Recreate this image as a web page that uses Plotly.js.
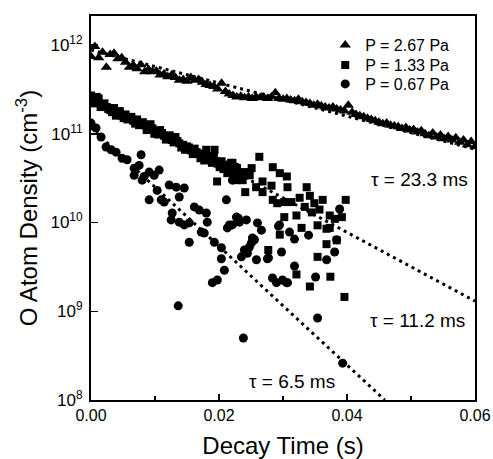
<!DOCTYPE html>
<html>
<head>
<meta charset="utf-8">
<script src="https://cdn.plot.ly/plotly-3.0.1.min.js"></script>
<style>html,body{margin:0;padding:0;background:#fff;}#chart{width:493px;height:459px;}</style>
</head>
<body>
<div id="chart"></div>
<script>
// ---- Data (decay time in s, O atom density in cm^-3) ----
var legendNames = ["P = 2.67 Pa", "P = 1.33 Pa", "P = 0.67 Pa"];
var yTickVals = [1e8, 1e9, 1e10, 1e11, 1e12];
var yTickText = ["10<sup>8</sup>", "10<sup>9</sup>", "10<sup>10</sup>", "10<sup>11</sup>", "10<sup>12</sup>"];

var triTime = [0.0000,0.0006,0.0012,0.0018,0.0024,0.0030,0.0036,0.0042,0.0048,0.0054,
  0.0060,0.0066,0.0072,0.0078,0.0084,0.0090,0.0096,0.0102,0.0108,0.0114,
  0.0120,0.0126,0.0132,0.0138,0.0144,0.0150,0.0156,0.0162,0.0168,0.0174,
  0.0180,0.0186,0.0192,0.0198,0.0204,0.0210,0.0216,0.0222,0.0228,0.0234,
  0.0240,0.0246,0.0252,0.0258,0.0264,0.0270,0.0276,0.0282,0.0288,0.0294,
  0.0300,0.0306,0.0312,0.0318,0.0324,0.0330,0.0336,0.0342,0.0348,0.0354,
  0.0360,0.0366,0.0372,0.0378,0.0384,0.0390,0.0396,0.0402,0.0408,0.0414,
  0.0420,0.0426,0.0432,0.0438,0.0444,0.0450,0.0456,0.0462,0.0468,0.0474,
  0.0480,0.0486,0.0492,0.0498,0.0504,0.0510,0.0516,0.0522,0.0528,0.0534,
  0.0540,0.0546,0.0552,0.0558,0.0564,0.0570,0.0576,0.0582,0.0588,0.0594,0.0600];
var triDensity = [7.4e11,9.6e11,7.2e11,8.3e11,5.6e11,7.8e11,8.1e11,7.0e11,7.2e11,6.4e11,
  5.6e11,5.9e11,5.4e11,6.0e11,5.0e11,5.3e11,5.0e11,5.1e11,4.6e11,4.7e11,
  4.4e11,4.6e11,4.3e11,4.0e11,4.1e11,3.9e11,4.3e11,4.0e11,4.1e11,3.8e11,
  3.6e11,3.5e11,3.4e11,3.2e11,3.7e11,3.0e11,2.8e11,2.7e11,2.6e11,2.65e11,
  2.55e11,2.6e11,2.5e11,2.6e11,2.55e11,2.6e11,2.5e11,2.6e11,2.9e11,2.5e11,
  2.45e11,2.5e11,2.4e11,2.35e11,2.45e11,2.3e11,2.25e11,2.2e11,2.1e11,2.15e11,
  2.05e11,2.0e11,1.95e11,2.0e11,1.9e11,1.85e11,1.8e11,2.1e11,1.75e11,1.65e11,
  1.6e11,1.55e11,1.5e11,1.45e11,1.4e11,1.35e11,1.3e11,1.32e11,1.25e11,1.22e11,
  1.2e11,1.15e11,1.18e11,1.1e11,1.12e11,1.05e11,1.08e11,1.0e11,9.5e10,1.02e11,
  9.2e10,9.7e10,8.8e10,9.3e10,8.5e10,9.0e10,8.0e10,8.5e10,7.5e10,8.2e10,7.2e10];

var sqTime = [0.0000,0.0006,0.0012,0.0018,0.0024,0.0030,0.0036,0.0042,0.0048,0.0054,
  0.0060,0.0066,0.0072,0.0078,0.0084,0.0090,0.0096,0.0102,0.0108,0.0114,
  0.0120,0.0126,0.0132,0.0138,0.0144,0.0150,0.0156,0.0162,0.0168,0.0174,
  0.0180,0.0186,0.0192,0.0198,0.0204,0.0210,0.0216,0.0222,0.0228,0.0234,0.0240,
  0.0003,0.0009,0.0015,0.0021,0.0027,0.0033,0.0039,0.0045,0.0051,0.0057,
  0.0063,0.0069,0.0075,0.0081,0.0087,0.0093,0.0099,0.0105,0.0111,0.0117,
  0.0123,0.0129,0.0135,0.0141,0.0147,0.0153,0.0159,0.0165,0.0171,0.0177,
  0.0183,0.0189,0.0195,0.0201,0.0207,0.0213,0.0219,0.0225,0.0231,0.0237,
  0.0193,0.0197,0.0221,0.0251,0.0248,0.0241,0.0227,0.0258,0.0268,0.0268,
  0.0282,0.0284,0.0291,0.0302,0.0307,0.0313,0.0326,0.0334,0.0345,0.0321,
  0.0302,0.0329,0.0295,0.0354,0.0368,0.0373,0.0384,0.0392,0.0398,0.0368,
  0.0277,0.0354,0.0321,0.0342,0.0374,0.0396,0.0284,0.0295,0.0306,0.0337,
  0.0342,0.0362,0.0263,0.0349,0.0357,0.0373,0.0381];
var sqDensity = [2.7e11,2.2e11,2.5e11,2.1e11,2.0e11,1.85e11,1.95e11,1.7e11,1.6e11,1.65e11,
  1.5e11,1.4e11,1.45e11,1.3e11,1.25e11,1.2e11,1.15e11,1.05e11,1.1e11,9.5e10,
  9.0e10,8.5e10,9.2e10,7.8e10,7.5e10,7.2e10,6.5e10,6.8e10,6.0e10,5.8e10,
  6.6e10,5.2e10,5.5e10,4.6e10,4.9e10,4.3e10,4.5e10,3.8e10,4.1e10,3.5e10,3.7e10,
  2.4e11,2.6e11,2.0e11,2.2e11,1.9e11,1.75e11,1.6e11,1.8e11,1.5e11,1.45e11,
  1.55e11,1.3e11,1.25e11,1.35e11,1.1e11,1.28e11,1.0e11,9.8e10,1.02e11,8.6e10,
  9.6e10,8.0e10,8.3e10,7.0e10,6.6e10,7.0e10,5.9e10,6.2e10,5.3e10,5.0e10,
  5.6e10,4.7e10,4.9e10,4.2e10,4.0e10,3.6e10,4.7e10,3.3e10,3.2e10,3.0e10,
  6.6e10,2.9e10,4.7e10,4.1e10,3.4e10,2.2e10,3.0e10,2.5e10,2.9e10,2.2e10,
  2.6e10,1.8e10,1.65e10,1.7e10,2.5e10,1.7e10,1.9e10,1.5e10,1.3e10,1.2e10,
  1.15e10,8.7e9,7.3e9,9.3e9,8.5e9,8.7e9,6.3e9,1.15e10,1.8e10,5.7e9,
  4.9e9,4.1e9,2.6e9,1.9e9,2.45e9,1.45e9,4.2e10,3.6e10,3.3e10,2.5e10,
  2.0e10,1.8e10,5.5e10,1.65e10,1.4e10,1.2e10,1.1e10];

var ciTime = [0.0000,0.00078,0.00157,0.00235,0.00313,0.00392,0.00486,0.00564,0.00783,0.00674,
  0.00752,0.00674,0.0083,0.00909,0.00987,0.01065,0.00799,0.00909,0.01034,0.01097,
  0.01144,0.01222,0.01332,0.01457,0.01379,0.01269,0.01253,0.01379,0.01457,0.01535,
  0.01614,0.01692,0.01802,0.01817,0.01535,0.0177,0.01927,0.02115,0.02272,0.02428,
  0.02162,0.02131,0.02522,0.01723,0.02037,0.02037,0.02084,0.01896,0.01974,0.02319,
  0.02601,0.02663,0.02507,0.02554,0.02428,0.0235,0.02444,0.02585,0.02757,0.02945,
  0.02977,0.02836,0.02898,0.02992,0.03055,0.01363,0.02381,0.02272,0.02209,0.02303,
  0.02209,0.02475,0.02397,0.02773,0.0293,0.03102,0.0318,0.0318,0.0307,0.03509,
  0.034,0.03682,0.03807,0.03838,0.03885,0.0354,0.03932];
var ciDensity = [1.32e11,1.16e11,9.2e10,7.1e10,6.6e10,6.2e10,5.3e10,5.1e10,5.8e10,4.1e10,
  4.4e10,3.4e10,3.3e10,3.7e10,3.4e10,3.9e10,3.0e10,1.8e10,2.3e10,1.8e10,
  1.7e10,2.65e10,2.5e10,2.45e10,1.94e10,1.28e10,1.07e10,1.01e10,9.4e9,9.9e9,
  1.5e10,1.38e10,1.28e10,1.01e10,6.0e9,7.6e9,6.0e9,1.8e10,1.15e10,1.07e10,
  9.4e9,8.7e9,6.7e9,7.8e9,5.2e9,3.9e9,2.9e9,2.1e9,2.25e9,1.01e10,
  9.9e9,8.2e9,5.9e9,6.4e9,4.65e9,4.1e9,4.5e9,3.8e9,3.9e9,9.4e9,
  4.65e9,2.37e9,2.1e9,2.25e9,2.1e9,1.15e9,5.0e8,4.2e10,3.0e10,1.12e10,
  9.4e9,5.3e9,4.9e9,4.0e9,9.1e9,7.8e9,6.5e9,3.24e9,2.1e9,2.43e9,
  7.2e9,3.8e9,4.65e9,6.4e9,1.42e10,8.4e8,2.6e8];

// exponential fits (straight lines on the log axis), end points
var fitTriTime = [0, 0.06],   fitTriDensity = [8.8e11, 6.7e10];
var fitSqTime  = [0, 0.06],   fitSqDensity  = [2.76e11, 1.3e9];
var fitCiTime  = [0, 0.0459], fitCiDensity  = [1.17e11, 1.0e8];
var tauLabels = ["\u03c4 = 23.3 ms", "\u03c4 = 11.2 ms", "\u03c4 = 6.5 ms"];

// minor tick positions for the log axis (2..9 within each decade)
var minorY = [];
for (var d = 8; d < 12.4; d++) {
  for (var m = 2; m <= 9; m++) { minorY.push(m * Math.pow(10, d)); }
}

var dotLine = {color: 'black', width: 3, dash: '3px,4px'};
var traces = [
  {x: fitTriTime, y: fitTriDensity, mode: 'lines', line: dotLine, showlegend: false, hoverinfo: 'skip'},
  {x: fitSqTime, y: fitSqDensity, mode: 'lines', line: dotLine, showlegend: false, hoverinfo: 'skip'},
  {x: fitCiTime, y: fitCiDensity, mode: 'lines', line: dotLine, showlegend: false, hoverinfo: 'skip'},
  {x: triTime, y: triDensity, mode: 'markers', name: legendNames[0], legend: 'legend',
   marker: {symbol: 'triangle-up', size: 10, color: 'black'}},
  {x: sqTime, y: sqDensity, mode: 'markers', name: legendNames[1], legend: 'legend2',
   marker: {symbol: 'square', size: 8, color: 'black'}},
  {x: ciTime, y: ciDensity, mode: 'markers', name: legendNames[2], legend: 'legend3',
   marker: {symbol: 'circle', size: 9, color: 'black'}}
];

var FONT = 'Liberation Sans, Arial, Helvetica, sans-serif';
function legendAt(yc) {
  return {x: 0.61, y: yc, xanchor: 'left', yanchor: 'middle', bgcolor: 'rgba(0,0,0,0)',
          font: {family: FONT, size: 16, color: 'black'}};
}
var yRange = [8, 12.327];
var layout = {
  width: 493, height: 459,
  margin: {l: 91, r: 18, t: 16, b: 59},
  paper_bgcolor: 'white', plot_bgcolor: 'white',
  font: {family: FONT, color: 'black', size: 16},
  showlegend: true,
  legend: legendAt(0.9245),
  legend2: legendAt(0.8724),
  legend3: legendAt(0.8229),
  xaxis: {
    range: [0, 0.06], dtick: 0.02, tick0: 0, tickformat: '.2f',
    ticks: 'inside', ticklen: 6, tickwidth: 1.5, tickcolor: 'black',
    minor: {dtick: 0.01, ticks: 'inside', ticklen: 4, tickwidth: 1.5, tickcolor: 'black'},
    showline: true, linewidth: 2, linecolor: 'black', mirror: true,
    showgrid: false, zeroline: false,
    tickfont: {family: FONT, size: 16},
    title: {text: 'Decay Time (s)', font: {family: FONT, size: 24}, standoff: 22}
  },
  yaxis: {
    type: 'log', range: yRange, tickmode: 'array', tickvals: yTickVals, ticktext: yTickText,
    ticks: 'inside', ticklen: 7, tickwidth: 1.5, tickcolor: 'black',
    showline: true, linewidth: 2, linecolor: 'black', mirror: true,
    showgrid: false, zeroline: false,
    tickfont: {family: FONT, size: 17},
    ticklabelstandoff: 3,
    title: {text: 'O Atom Density (cm<sup>-3</sup>)', font: {family: FONT, size: 24}, standoff: 6}
  },
  yaxis2: {
    type: 'log', range: yRange, overlaying: 'y', anchor: 'x', side: 'left',
    tickmode: 'array', tickvals: minorY, showticklabels: false,
    ticks: 'inside', ticklen: 4, tickwidth: 1.2, tickcolor: 'black',
    showline: false, showgrid: false, zeroline: false
  },
  annotations: [
    {xref: 'paper', yref: 'paper', x: 0.724, y: 0.573, xanchor: 'left', yanchor: 'middle',
     text: tauLabels[0], showarrow: false, font: {family: FONT, size: 19}},
    {xref: 'paper', yref: 'paper', x: 0.721, y: 0.208, xanchor: 'left', yanchor: 'middle',
     text: tauLabels[1], showarrow: false, font: {family: FONT, size: 19}},
    {xref: 'paper', yref: 'paper', x: 0.405, y: 0.047, xanchor: 'left', yanchor: 'middle',
     text: tauLabels[2], showarrow: false, font: {family: FONT, size: 19}}
  ]
};

Plotly.newPlot('chart', traces, layout, {staticPlot: true, displayModeBar: false});
</script>
</body>
</html>
